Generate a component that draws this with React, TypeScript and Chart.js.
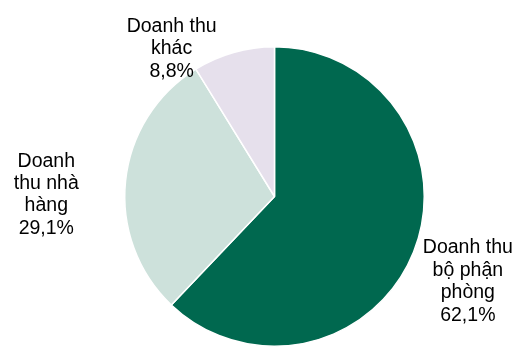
import React, { useEffect, useRef } from "react";
import { Chart, registerables } from "chart.js";

Chart.register(...registerables);

const categories = ["Doanh thu bộ phận phòng", "Doanh thu nhà hàng", "Doanh thu khác"];
const values = [62.1, 29.1, 8.8];
const labelLines = [
  ["Doanh thu", "bộ phận", "phòng"],
  ["Doanh", "thu nhà", "hàng"],
  ["Doanh thu", "khác"],
];
const colors = ["#00684F", "#CDE1DB", "#E6E0EC"];

// label anchor offsets (center x, first baseline) relative to pie centre, in radius units
const labelOffsets = [
  [1.291, 0.38],
  [-1.524, -0.2],
  [-0.687, -1.1],
];

const labelPlugin = {
  id: "outerLabels",
  afterDatasetsDraw(chart: any) {
    const ctx = chart.ctx;
    const meta = chart.getDatasetMeta(0);
    ctx.save();
    ctx.font = '19.5px "Liberation Sans", Arial, sans-serif';
    ctx.fillStyle = "#000000";
    ctx.textAlign = "center";
    ctx.textBaseline = "alphabetic";
    meta.data.forEach((arc: any, i: number) => {
      const { x, y, outerRadius } = arc.getProps(["x", "y", "outerRadius"], true);
      const ax = x + labelOffsets[i][0] * outerRadius;
      const ay = y + labelOffsets[i][1] * outerRadius;
      const lines = [...labelLines[i], values[i].toFixed(1).replace(".", ",") + "%"];
      lines.forEach((t, k) => ctx.fillText(t, ax, ay + k * 22.4));
    });
    ctx.restore();
  },
};

export default function App() {
  const ref = useRef<HTMLCanvasElement>(null);
  useEffect(() => {
    if (!ref.current) return;
    const chart = new Chart(ref.current, {
      type: "pie",
      data: {
        labels: categories,
        datasets: [
          {
            data: values,
            backgroundColor: colors,
            borderColor: "#FFFFFF",
            borderWidth: 1.5,
          },
        ],
      },
      options: {
        responsive: false,
        animation: false,
        layout: { padding: { top: 46, bottom: -2, left: 123, right: 91 } },
        plugins: {
          legend: { display: false },
          tooltip: { enabled: false },
        },
      },
      plugins: [labelPlugin],
    });
    return () => chart.destroy();
  }, []);
  return (
    <div style={{ position: "fixed", left: 0, top: 0, width: 517, height: 347, background: "#fff" }}>
      <canvas ref={ref} width={517} height={347} style={{ display: "block" }} />
    </div>
  );
}
